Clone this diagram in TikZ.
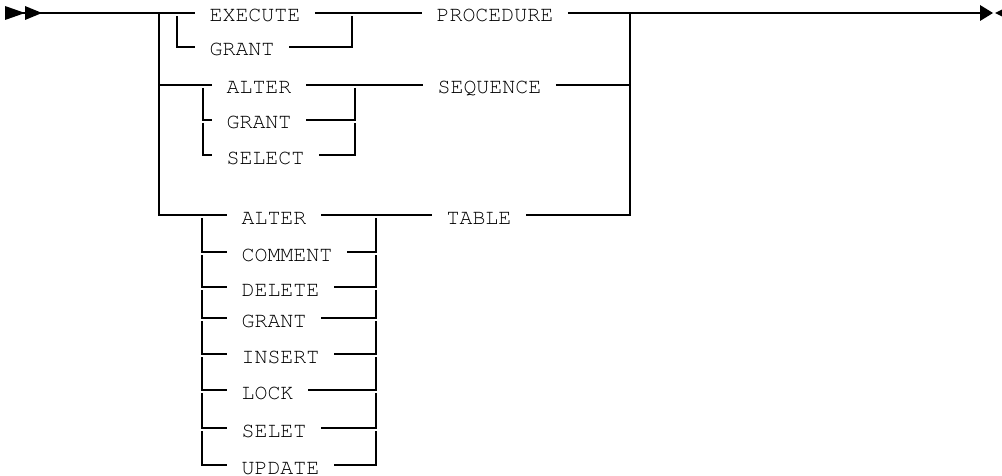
\documentclass[tikz,border=0pt]{standalone}
\usepackage[T1,TU]{fontenc}
\usepackage{tikz}
\tikzset{
  font={\fontencoding{T1}\fontfamily{pcr}\fontsize{10.8pt}{12}\selectfont}}

\begin{document}
\begin{tikzpicture}[x=0.5pt,y=0.5pt,line width=0.6pt]
\tikzstyle{every node}+=[inner xsep=7pt,inner ysep=0pt,text height=9pt,text depth=0pt,anchor=west]
\useasboundingbox (0,0) rectangle (1002,-476);
% split and join points
\coordinate (in) at (5,-13);
\coordinate (j0) at (159,-13);
\coordinate (j1) at (630,-13);
\coordinate (out) at (980,-13);
\coordinate (pl) at (177,-13);
\coordinate (pr) at (352,-13);
\coordinate (sj) at (159,-85);
\coordinate (sl) at (203,-85);
\coordinate (sr) at (355,-85);
\coordinate (sk) at (630,-85);
\coordinate (tj) at (159,-215);
\coordinate (tl) at (202,-215);
\coordinate (tr) at (376,-215);
\coordinate (tk) at (630,-215);
% keywords
\node (exe) at (195,-13) {EXECUTE};
\node (grp) at (195,-47) {GRANT};
\node (proc) at (422,-13) {PROCEDURE};
\node (alts) at (212,-85) {ALTER};
\node (grs) at (212,-120) {GRANT};
\node (sels) at (212,-155) {SELECT};
\node (seq) at (423,-85) {SEQUENCE};
\node (altt) at (227,-215) {ALTER};
\node (cmt) at (227,-252) {COMMENT};
\node (del) at (227,-287) {DELETE};
\node (grt) at (227,-318) {GRANT};
\node (ins) at (227,-354) {INSERT};
\node (lck) at (227,-390) {LOCK};
\node (slt) at (227,-428) {SELET};
\node (upd) at (227,-465) {UPDATE};
\node (tab) at (432,-215) {TABLE};
% main line
\draw [black] (in) -- (j0) -- (pl) -- (exe.west);
\draw [black] (exe.east) -- (pr) -- (proc.west);
\draw [black] (proc.east) -- (j1) -- (out);
\draw [black] (j0) -- (tj) -- (altt.west);
\draw [black] (j1) -- (tk) -- (tab.east);
\draw [black] (altt.east) -- (tab.west);
\draw [black] (sj) -- (alts.west);
\draw [black] (alts.east) -- (seq.west);
\draw [black] (seq.east) -- (sk);
% procedure choices
\draw [black] (pl) ++(0,-3) |- (grp.west);
\draw [black] (pr) ++(0,-3) |- (grp.east);
% sequence choices
\draw [black] (sl) ++(0,-3) |- (grs.west);
\draw [black] (sr) ++(0,-3) |- (grs.east);
\draw [black] (grs.west -| sl) ++(0,-3) |- (sels.west);
\draw [black] (grs.east -| sr) ++(0,-3) |- (sels.east);
% table choices
\draw [black] (tl) ++(0,-3) |- (cmt.west);
\draw [black] (tr) ++(0,-3) |- (cmt.east);
\draw [black] (cmt.west -| tl) ++(0,-3) |- (del.west);
\draw [black] (cmt.east -| tr) ++(0,-3) |- (del.east);
\draw [black] (del.west -| tl) ++(0,-3) |- (grt.west);
\draw [black] (del.east -| tr) ++(0,-3) |- (grt.east);
\draw [black] (grt.west -| tl) ++(0,-3) |- (ins.west);
\draw [black] (grt.east -| tr) ++(0,-3) |- (ins.east);
\draw [black] (ins.west -| tl) ++(0,-3) |- (lck.west);
\draw [black] (ins.east -| tr) ++(0,-3) |- (lck.east);
\draw [black] (lck.west -| tl) ++(0,-3) |- (slt.west);
\draw [black] (lck.east -| tr) ++(0,-3) |- (slt.east);
\draw [black] (slt.west -| tl) ++(0,-3) |- (upd.west);
\draw [black] (slt.east -| tr) ++(0,-3) |- (upd.east);
% start and end marks
\fill [black] (5,-6) -- (25,-13) -- (5,-20);
\fill [black] (25,-6) -- (42,-13) -- (25,-20);
\fill [black] (980,-5) -- (993,-13) -- (980,-21);
\fill [black] (1011,-5) -- (995,-13) -- (1011,-21);
\end{tikzpicture}
\end{document}
